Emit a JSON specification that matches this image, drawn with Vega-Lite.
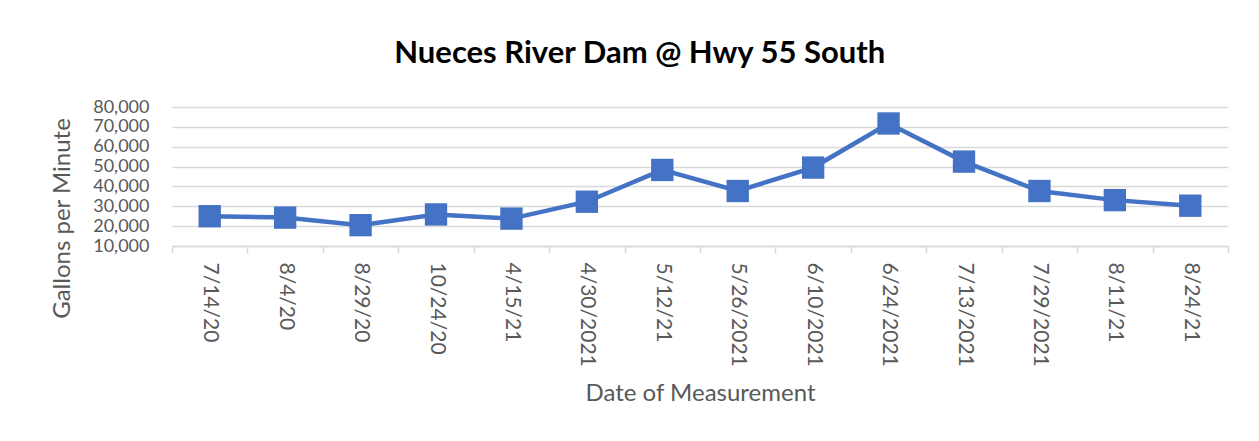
{
  "$schema": "https://vega.github.io/schema/vega-lite/v6.json",
  "width": 1056,
  "height": 139,
  "padding": {"left": 50, "top": 38, "right": 31, "bottom": 10},
  "background": "white",
  "title": {
    "text": "Nueces River Dam @ Hwy 55 South",
    "font": "Lato",
    "fontSize": 31,
    "fontWeight": "bold",
    "color": "#000000",
    "anchor": "middle",
    "frame": "bounds",
    "offset": 28
  },
  "data": {
    "values": [
      {"date": "7/14/20", "gpm": 25000},
      {"date": "8/4/20", "gpm": 24300},
      {"date": "8/29/20", "gpm": 20500},
      {"date": "10/24/20", "gpm": 25900},
      {"date": "4/15/21", "gpm": 23800},
      {"date": "4/30/2021", "gpm": 32300},
      {"date": "5/12/21", "gpm": 48300},
      {"date": "5/26/2021", "gpm": 37700},
      {"date": "6/10/2021", "gpm": 49500},
      {"date": "6/24/2021", "gpm": 71700},
      {"date": "7/13/2021", "gpm": 52500},
      {"date": "7/29/2021", "gpm": 37700},
      {"date": "8/11/21", "gpm": 33100},
      {"date": "8/24/21", "gpm": 30300}
    ]
  },
  "encoding": {
    "x": {
      "field": "date",
      "type": "nominal",
      "sort": null,
      "scale": {"paddingInner": 0, "paddingOuter": 0},
      "axis": {
        "title": "Date of Measurement",
        "labelAngle": 90,
        "labelFont": "Lato",
        "labelFontSize": 21,
        "labelColor": "#595959",
        "labelPadding": 9,
        "titleFont": "Lato",
        "titleFontSize": 24,
        "titleFontWeight": "normal",
        "titleColor": "#595959",
        "titlePadding": 15,
        "tickBand": "extent",
        "ticks": true,
        "tickSize": 7,
        "tickColor": "#D9D9D9",
        "tickWidth": 1.5,
        "domainColor": "#D9D9D9",
        "domainWidth": 1.5,
        "grid": false
      }
    },
    "y": {
      "field": "gpm",
      "type": "quantitative",
      "scale": {"domain": [10000, 80000], "nice": false, "zero": false},
      "axis": {
        "title": "Gallons per Minute",
        "values": [10000, 20000, 30000, 40000, 50000, 60000, 70000, 80000],
        "format": ",d",
        "labelFont": "Lato",
        "labelFontSize": 18,
        "labelColor": "#595959",
        "labelPadding": 23,
        "labelOverlap": false,
        "labelFlush": false,
        "ticks": false,
        "domain": false,
        "grid": true,
        "gridColor": "#D9D9D9",
        "gridWidth": 1.5,
        "titleFont": "Lato",
        "titleFontSize": 24,
        "titleFontWeight": "normal",
        "titleColor": "#595959",
        "titlePadding": 18,
        "titleY": 111
      }
    }
  },
  "layer": [
    {
      "mark": {"type": "line", "color": "#4472C4", "strokeWidth": 4.5}
    },
    {
      "mark": {"type": "point", "shape": "square", "filled": true, "color": "#4472C4", "opacity": 1, "size": 500}
    }
  ],
  "config": {
    "view": {"stroke": null}
  }
}
